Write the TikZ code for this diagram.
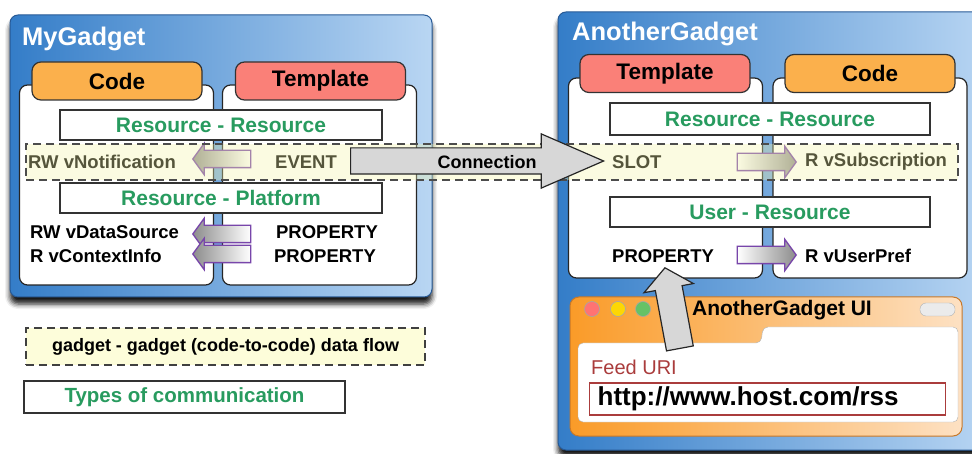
\documentclass[tikz,border=0pt]{standalone}
\usepackage{fontspec}
\setmainfont{Liberation Sans}
\usetikzlibrary{shapes.arrows,shadows.blur,positioning}
\definecolor{gblueD}{RGB}{52,125,200}
\definecolor{gblueL}{RGB}{185,214,243}
\definecolor{gborder}{RGB}{40,90,150}
\definecolor{codeor}{RGB}{251,176,76}
\definecolor{tmplred}{RGB}{250,128,120}
\definecolor{kindgreen}{RGB}{40,155,95}
\definecolor{flowpurple}{RGB}{120,70,170}
\definecolor{bandyellow}{RGB}{245,245,170}
\definecolor{legendyellow}{RGB}{253,253,218}
\definecolor{conngray}{RGB}{215,215,215}
\definecolor{uiorange}{RGB}{250,155,40}
\definecolor{uilight}{RGB}{253,225,195}
\definecolor{uiborder}{RGB}{200,120,40}
\definecolor{feedred}{RGB}{170,60,60}
\begin{document}
\begin{tikzpicture}[x=1pt,y=-1pt,
  every node/.style={inner sep=0pt, font=\fontsize{18.5}{20}\selectfont\bfseries},
  gadget/.style={draw=gborder, line width=1pt, rounded corners=8pt, left color=gblueD, right color=gblueL,
    blur shadow={shadow xshift=0pt, shadow yshift=-7pt, shadow blur radius=5pt, shadow opacity=90}},
  gtitle/.style={anchor=base west, text=white, font=\fontsize{25.5}{28}\selectfont\bfseries},
  panel/.style={draw=black!85, fill=white, line width=1.2pt, rounded corners=8pt, minimum width=194pt, minimum height=200pt},
  tab/.style={draw=black!80, line width=1.2pt, rounded corners=9pt, minimum width=170pt, minimum height=38pt, font=\fontsize{22.5}{24}\selectfont\bfseries},
  codetab/.style={tab, fill=codeor},
  tmpltab/.style={tab, fill=tmplred},
  kind/.style={draw=black!80, fill=white, line width=1.2pt, minimum width=322pt, minimum height=30pt, text=kindgreen, font=\fontsize{21}{22}\selectfont\bfseries},
  flow/.style={single arrow, anchor=tip, draw=flowpurple, line width=1.3pt, minimum height=58pt, inner xsep=0pt, inner ysep=8pt, single arrow head extend=7pt, single arrow tip angle=108},
  flowleft/.style={flow, shape border rotate=180, left color=black!45, right color=white},
  flowright/.style={flow, left color=white, right color=black!45},
  band/.style={draw=black!70, dash pattern=on 8pt off 5pt, line width=1.3pt, fill=bandyellow, fill opacity=.35},
  bigarrow/.style={single arrow, anchor=tail, draw=black!85, line width=1.2pt, fill=conngray, inner xsep=0pt},
  dot/.style={circle, draw=black!35, line width=.6pt, minimum size=15pt}]
\useasboundingbox (0,0) rectangle (972,454);
\node[gadget, minimum width=422pt, minimum height=282pt] (g1) at (221,156) {};
\node[gadget, minimum width=434pt, minimum height=438pt] (g2) at (775,231) {};
\node[gtitle] (g1title) at (22,46) {MyGadget};
\node[gtitle] (g2title) at (572,41) {AnotherGadget};
\node[panel] (g1code) at (116.5,185) {};
\node[panel] (g1tmpl) at (319.5,185) {};
\node[codetab] (g1codetab) at (117,81) {Code};
\node[tmpltab] (g1tmpltab) at (320.5,81) {Template};
\node[panel] (g2tmpl) at (665.5,178) {};
\node[panel] (g2code) at (870,178) {};
\node[tmpltab] (g2tmpltab) at (665,73.5) {Template};
\node[codetab] (g2codetab) at (870,73.5) {Code};
\node[kind] (rr1) at (221,125) {Resource - Resource};
\node[kind] (rp1) at (221,198) {Resource - Platform};
\node[kind, minimum width=320pt, minimum height=32pt] (rr2) at (770,119) {Resource - Resource};
\node[kind, minimum width=320pt] (ur2) at (770,212) {User - Resource};
\node[anchor=west] (notif) at (28,162) {RW vNotification};
\node (event) at (306,162) {EVENT};
\node[anchor=west] (dsrc) at (30,232) {RW vDataSource};
\node[anchor=west] (ctx) at (30,256) {R vContextInfo};
\node (prop1) at (327,232) {PROPERTY};
\node (prop2) at (325,256) {PROPERTY};
\node[flowleft] (f1) at (192,159) {};
\node[flowleft] (f2) at (192,234) {};
\node[flowleft] (f3) at (192,254) {};
\node[anchor=west] (slot) at (612,162) {SLOT};
\node[anchor=west] (subs) at (805,162) {R vSubscription};
\node[anchor=west] (prop3) at (612,256) {PROPERTY};
\node[anchor=west] (upref) at (805,256) {R vUserPref};
\node[flowright, minimum height=59pt] (f4) at (797,162) {};
\node[flowright, minimum height=59pt] (f5) at (797,255) {};
\node[band, minimum width=932pt, minimum height=36pt] (flowband) at (492,162) {};
\node[bigarrow, minimum height=253pt, inner ysep=12.5pt, single arrow head extend=14pt, single arrow tip angle=47] (conn) at (350,161) {};
\node[font=\fontsize{18}{20}\selectfont\bfseries] (connlbl) at (487,162) {Connection};
\node[draw=uiborder, line width=1pt, rounded corners=9pt, left color=uiorange, right color=uilight, minimum width=392pt, minimum height=139pt] (ui) at (766,366.5) {};
\node[dot, fill=red!55] (d1) at (592,309) {};
\node[dot, fill=yellow!75!orange] (d2) at (618,309) {};
\node[dot, fill=green!60!black!60] (d3) at (643,309) {};
\node[font=\fontsize{21}{22}\selectfont\bfseries] (uititle) at (782,310) {AnotherGadget UI};
\node[draw=black!30, fill=black!8, rounded corners=6pt, minimum width=35pt, minimum height=13pt] (pill) at (937.5,309.5) {};
\draw[draw=black!30, fill=white, rounded corners=5pt] (578,422) -- (578,343) -- (761,343) -- (763,327) -- (958,327) -- (958,422) -- cycle;
\node[anchor=west, text=feedred, font=\fontsize{20}{22}\selectfont] (feed) at (591,367) {Feed URI};
\node[anchor=west, draw=feedred, fill=white, line width=1.3pt, minimum height=32pt, text width=340pt, inner xsep=8pt, font=\fontsize{26}{28}\selectfont\bfseries] (url) at (589,399) {http://www.host.com/rss};
\node[bigarrow, minimum height=82pt, inner ysep=13pt, single arrow head extend=11.5pt, single arrow tip angle=101, rotate=100.5] (up) at (680,349) {};
\node[draw=black!75, dash pattern=on 8pt off 5pt, line width=1.3pt, fill=legendyellow, minimum width=399pt, minimum height=37pt, font=\fontsize{18}{20}\selectfont\bfseries] (lgflow) at (225.5,346.5) {gadget - gadget (code-to-code) data flow};
\node[kind, minimum width=321pt, minimum height=32pt, font=\fontsize{20.5}{22}\selectfont\bfseries] (lgkind) at (184.5,397) {Types of communication};
\end{tikzpicture}
\end{document}
